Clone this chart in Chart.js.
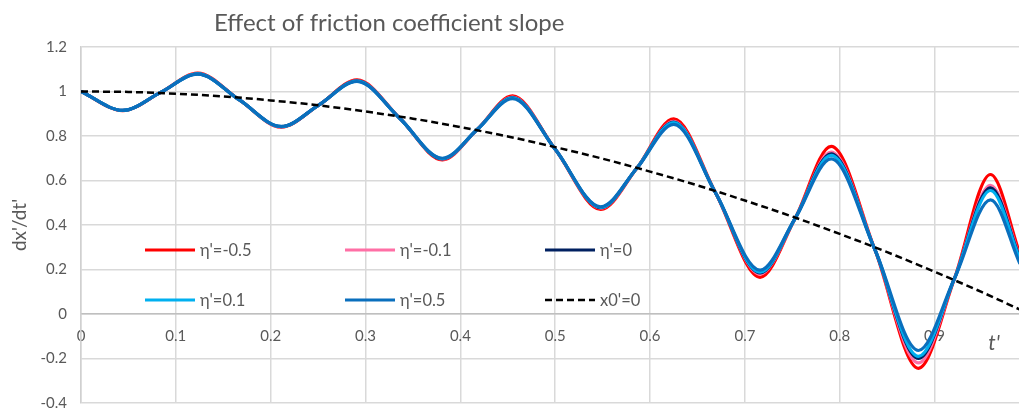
<!DOCTYPE html>
<html>
<head>
<meta charset="utf-8">
<script src="https://cdn.jsdelivr.net/npm/chart.js@4.4.1/dist/chart.umd.min.js"></script>
<style>
  html, body { margin: 0; padding: 0; background: #fff; }
  #wrap { width: 1019px; height: 408px; }
</style>
</head>
<body>
<div id="wrap"><canvas id="chart" width="1019" height="408"></canvas></div>
<script>
// ---------- Data ----------
// sample times for the oscillating velocity curves (extrema and midpoints)
const tValues = [0, 0.044, 0.084, 0.123, 0.167, 0.211, 0.251, 0.291, 0.336, 0.381, 0.418, 0.455, 0.5,
                 0.548, 0.586, 0.625, 0.669, 0.716, 0.753, 0.791, 0.837, 0.883, 0.921, 0.959, 0.99];

const etaM05 = [1.0, 0.914, 0.996, 1.083, 0.962, 0.840, 0.94, 1.052, 0.88, 0.693, 0.83, 0.980, 0.74,
                0.470, 0.655, 0.877, 0.545, 0.165, 0.43, 0.753, 0.29, -0.244, 0.16, 0.627, 0.27];
const etaM01 = [1.0, 0.915, 0.996, 1.080, 0.962, 0.841, 0.94, 1.049, 0.88, 0.696, 0.83, 0.975, 0.74,
                0.476, 0.655, 0.866, 0.545, 0.180, 0.43, 0.728, 0.29, -0.220, 0.16, 0.578, 0.255];
const eta0   = [1.0, 0.915, 0.996, 1.079, 0.962, 0.842, 0.94, 1.048, 0.88, 0.697, 0.83, 0.973, 0.74,
                0.478, 0.655, 0.863, 0.545, 0.185, 0.43, 0.720, 0.29, -0.200, 0.16, 0.567, 0.25];
const etaP01 = [1.0, 0.915, 0.996, 1.079, 0.962, 0.842, 0.94, 1.047, 0.88, 0.698, 0.83, 0.972, 0.74,
                0.479, 0.655, 0.860, 0.545, 0.188, 0.43, 0.713, 0.29, -0.190, 0.16, 0.555, 0.245];
const etaP05 = [1.0, 0.915, 0.996, 1.078, 0.962, 0.843, 0.94, 1.045, 0.88, 0.700, 0.83, 0.968, 0.74,
                0.482, 0.655, 0.852, 0.545, 0.197, 0.43, 0.697, 0.29, -0.164, 0.16, 0.513, 0.225];

// reference curve for x0'=0
const x0Times  = [0, 0.05, 0.1, 0.15, 0.2, 0.25, 0.3, 0.35, 0.4, 0.45, 0.5, 0.55, 0.6, 0.65, 0.7,
                  0.75, 0.8, 0.85, 0.9, 0.95, 0.99];
const x0Values = [1.0, 0.998, 0.99, 0.978, 0.96, 0.938, 0.91, 0.878, 0.84, 0.798, 0.75, 0.698, 0.64,
                  0.578, 0.51, 0.438, 0.36, 0.278, 0.19, 0.098, 0.02];

const seriesLabels = ["η'=-0.5", "η'=-0.1", "η'=0", "η'=0.1", "η'=0.5", "x0'=0"];
const seriesColors = ['#ff0000', '#ff6fa5', '#002060', '#00b0f0', '#0a6fbd', '#000000'];

const xTicks = [0, 0.1, 0.2, 0.3, 0.4, 0.5, 0.6, 0.7, 0.8, 0.9];
const yTicks = [-0.4, -0.2, 0, 0.2, 0.4, 0.6, 0.8, 1, 1.2];

const FONT = 'Lato, "Open Sans", sans-serif';
const TEXT = '#595959';

function toPoints(xs, ys) {
  return xs.map((x, i) => ({ x: x, y: ys[i] }));
}

// later series are painted over earlier ones (higher order = drawn first)
const etaSeries = [etaM05, etaM01, eta0, etaP01, etaP05];
const datasets = etaSeries.map((vals, i) => ({
  label: seriesLabels[i],
  data: toPoints(tValues, vals),
  borderColor: seriesColors[i],
  borderWidth: 3.2,
  order: 10 - i,
  cubicInterpolationMode: 'monotone'
}));
datasets.push({
  label: seriesLabels[5],
  data: toPoints(x0Times, x0Values),
  borderColor: seriesColors[5],
  borderWidth: 2.5,
  borderDash: [7, 4],
  order: 0,
  cubicInterpolationMode: 'monotone'
});

// ---------- Title, in-plot legend and t' label ----------
const decorPlugin = {
  id: 'decor',
  afterDatasetsDraw(chart) {
    const ctx = chart.ctx;
    ctx.save();
    ctx.fillStyle = TEXT;
    ctx.textBaseline = 'middle';

    ctx.font = '24px ' + FONT;
    ctx.textAlign = 'left';
    ctx.fillText('Effect of friction coefficient slope', 214, 23);

    // legend: two rows of three entries
    const colX = [145, 345, 545];
    const rowY = [250, 300];
    ctx.font = '16.5px ' + FONT;
    chart.data.datasets.forEach((ds, i) => {
      const x = colX[i % 3];
      const y = rowY[Math.floor(i / 3)];
      ctx.beginPath();
      ctx.strokeStyle = ds.borderColor;
      ctx.lineWidth = ds.borderWidth;
      ctx.setLineDash(ds.borderDash || []);
      ctx.moveTo(x, y);
      ctx.lineTo(x + 50, y);
      ctx.stroke();
      ctx.setLineDash([]);
      ctx.fillText(ds.label, x + 55, y + 1);
    });

    ctx.font = 'italic 21px ' + FONT;
    ctx.textAlign = 'center';
    ctx.fillText("t'", 994, 343);
    ctx.restore();
  }
};

// ---------- Chart ----------
new Chart(document.getElementById('chart'), {
  type: 'line',
  data: { datasets: datasets },
  options: {
    responsive: false,
    animation: false,
    layout: { padding: { top: 47, right: 0, bottom: 5, left: 0 } },
    elements: { point: { radius: 0 } },
    plugins: {
      legend: { display: false },
      title: { display: false },
      tooltip: { enabled: false }
    },
    scales: {
      x: {
        type: 'linear',
        position: { y: 0 },
        min: 0,
        max: 0.989,
        afterBuildTicks: s => { s.ticks = xTicks.map(v => ({ value: v })); },
        ticks: {
          color: TEXT,
          font: { family: FONT, size: 15 },
          padding: 13,
          maxRotation: 0,
          callback: v => String(+v.toFixed(1))
        },
        grid: { color: '#d9d9d9', lineWidth: 1.5, drawTicks: false },
        border: { color: '#bfbfbf', width: 1.5 }
      },
      y: {
        min: -0.4,
        max: 1.2,
        afterBuildTicks: s => { s.ticks = yTicks.map(v => ({ value: v })); },
        afterFit: s => { s.width = 81; s.paddingTop = 0; s.paddingBottom = 0; },
        ticks: {
          color: TEXT,
          font: { family: FONT, size: 15 },
          padding: 14,
          callback: v => String(+v.toFixed(1))
        },
        grid: { color: '#d9d9d9', lineWidth: 1.5, drawTicks: false },
        border: { color: '#d0d0d0', width: 1.5 },
        title: {
          display: true,
          text: "dx'/dt'",
          color: TEXT,
          font: { family: FONT, size: 19 },
          padding: { top: 8, bottom: 0 }
        }
      }
    }
  },
  plugins: [decorPlugin]
});
</script>
</body>
</html>
